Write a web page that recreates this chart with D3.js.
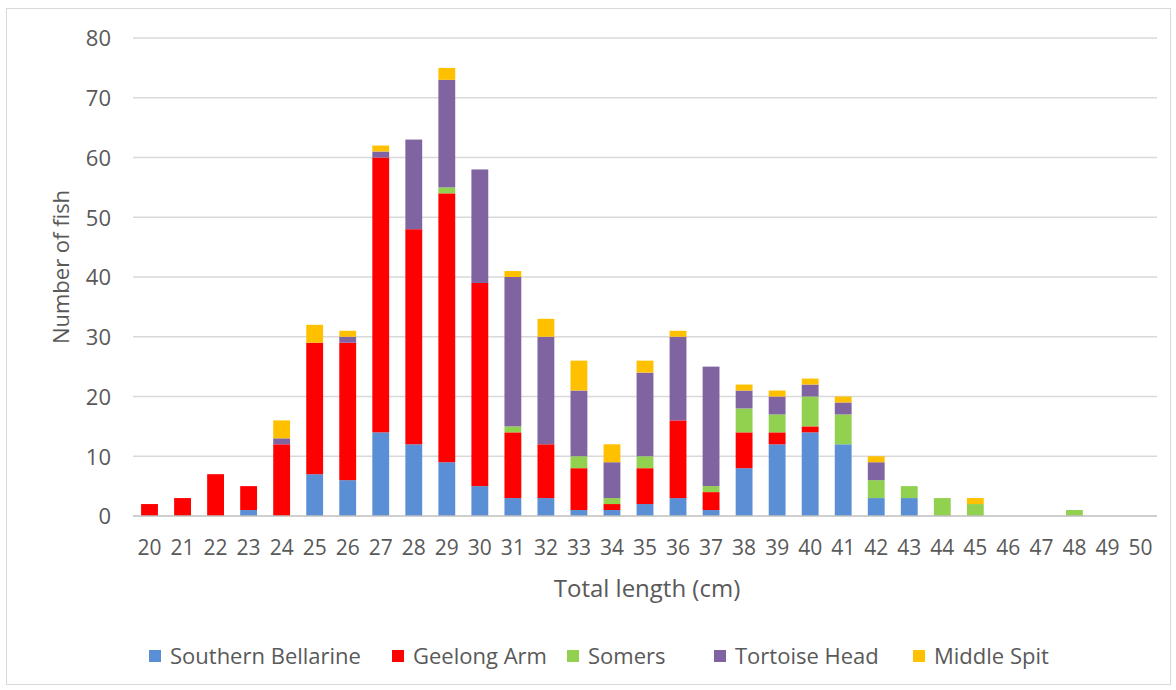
<!DOCTYPE html>
<html><head><meta charset="utf-8">
<script src="https://cdn.jsdelivr.net/npm/d3@7"></script>
<style>html,body{margin:0;padding:0;background:#fff;} svg{display:block;}</style>
</head><body>
<svg id="chart" width="1176" height="690"></svg>
<script>
const categories = [20,21,22,23,24,25,26,27,28,29,30,31,32,33,34,35,36,37,38,39,40,41,42,43,44,45,46,47,48,49,50];
const seriesNames = ["Southern Bellarine","Geelong Arm","Somers","Tortoise Head","Middle Spit"];
const southernBellarine = [0,0,0,1,0,7,6,14,12,9,5,3,3,1,1,2,3,1,8,12,14,12,3,3,0,0,0,0,0,0,0];
const geelongArm        = [2,3,7,4,12,22,23,46,36,45,34,11,9,7,1,6,13,3,6,2,1,0,0,0,0,0,0,0,0,0,0];
const somers            = [0,0,0,0,0,0,0,0,0,1,0,1,0,2,1,2,0,1,4,3,5,5,3,2,3,2,0,0,1,0,0];
const tortoiseHead      = [0,0,0,0,1,0,1,1,15,18,19,25,18,11,6,14,14,20,3,3,2,2,3,0,0,0,0,0,0,0,0];
const middleSpit        = [0,0,0,0,3,3,1,1,0,2,0,1,3,5,3,2,1,0,1,1,1,1,1,0,0,1,0,0,0,0,0];
const yTicks = [0,10,20,30,40,50,60,70,80];
const colors = ["#5b8fd5","#ff0000","#92d050","#8064a2","#ffc000"];

const seriesValues = [southernBellarine, geelongArm, somers, tortoiseHead, middleSpit];
const table = categories.map((c,i)=>{const r={cat:c}; seriesNames.forEach((n,k)=>r[n]=seriesValues[k][i]); return r;});

const svg = d3.select("#chart");
const font = "'Open Sans', sans-serif";
const textColor = "#595959";

svg.append("rect").attr("x",6.5).attr("y",8.5).attr("width",1164).attr("height",676)
  .attr("fill","#fff").attr("stroke","#d9d9d9").attr("stroke-width",1);

const plotLeft=133, plotRight=1157, plotTop=38, plotBottom=516;
const x = d3.scaleBand().domain(categories).range([plotLeft,plotRight]).paddingInner(0.49).paddingOuter(0.245);
const y = d3.scaleLinear().domain([0,80]).range([plotBottom,plotTop]);

// gridlines
svg.append("g").selectAll("line").data(yTicks.filter(t=>t>0)).join("line")
  .attr("x1",plotLeft).attr("x2",plotRight).attr("y1",d=>y(d)).attr("y2",d=>y(d))
  .attr("stroke","#d9d9d9").attr("stroke-width",1.5);

// bars
const stack = d3.stack().keys(seriesNames)(table);
svg.append("g").selectAll("g").data(stack).join("g")
  .attr("fill",(d,i)=>colors[i])
  .selectAll("rect").data(d=>d.filter(p=>p[1]-p[0]>0)).join("rect")
  .attr("x",d=>x(d.data.cat)).attr("width",x.bandwidth())
  .attr("y",d=>y(d[1])).attr("height",d=>y(d[0])-y(d[1]));

// baseline
svg.append("line").attr("x1",plotLeft).attr("x2",plotRight).attr("y1",plotBottom).attr("y2",plotBottom)
  .attr("stroke","#bfbfbf").attr("stroke-width",1.5);

// y axis
const yAxis = d3.axisLeft(y).tickValues(yTicks).tickSize(0).tickPadding(0);
const yg = svg.append("g").attr("transform",`translate(${plotLeft-22},0)`).call(yAxis);
yg.select(".domain").remove();
yg.selectAll("text").attr("font-family",font).attr("font-size",22).attr("fill",textColor).attr("dy","0.36em");

// x axis
const xAxis = d3.axisBottom(x).tickSize(0).tickPadding(0);
const xg = svg.append("g").attr("transform",`translate(0,${plotBottom+31})`).call(xAxis);
xg.select(".domain").remove();
xg.selectAll("text").attr("font-family",font).attr("font-size",21).attr("fill",textColor).attr("dy","0.36em");

// axis titles
svg.append("text").attr("x",647).attr("y",588).attr("text-anchor","middle").attr("dy","0.36em")
  .attr("font-family",font).attr("font-size",24).attr("fill",textColor).text("Total length (cm)");
svg.append("text").attr("transform","translate(61,267) rotate(-90)").attr("text-anchor","middle").attr("dy","0.36em")
  .attr("font-family",font).attr("font-size",22).attr("fill",textColor).text("Number of fish");

// legend
const legendX = [149,392,567,714,913];
const lg = svg.append("g").selectAll("g").data(seriesNames).join("g")
  .attr("transform",(d,i)=>`translate(${legendX[i]},656)`);
lg.append("rect").attr("x",0).attr("y",-6).attr("width",12).attr("height",12).attr("fill",(d,i)=>colors[i]);
lg.append("text").attr("x",21).attr("y",0).attr("dy","0.36em").attr("font-family",font).attr("font-size",22)
  .attr("fill",textColor).text(d=>d);
</script>
</body></html>
